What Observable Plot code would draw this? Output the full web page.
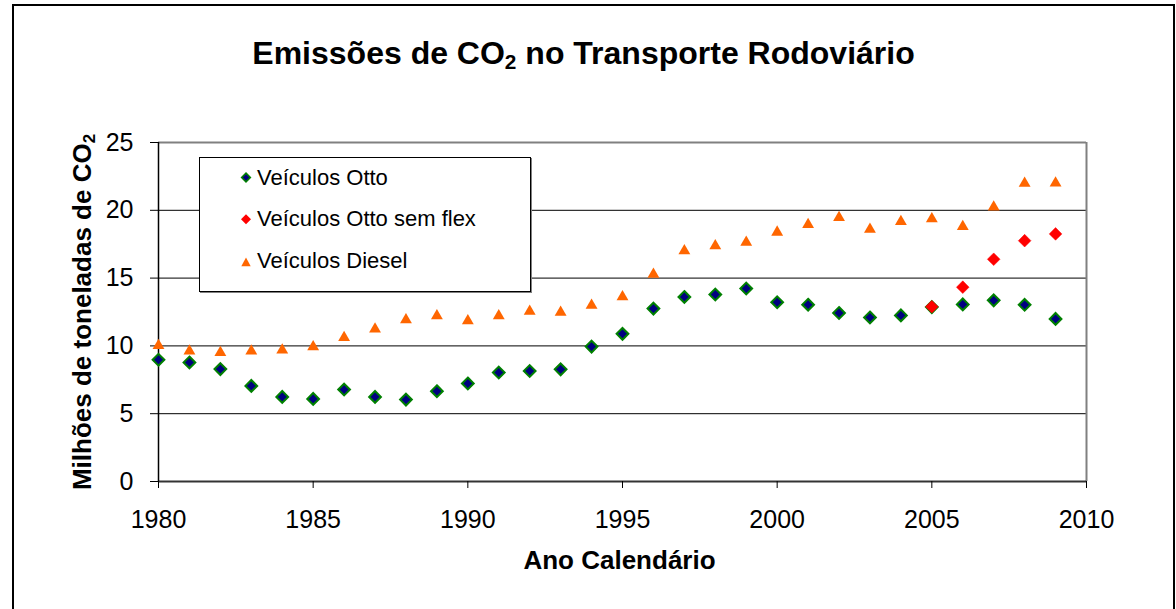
<!DOCTYPE html>
<html><head><meta charset="utf-8">
<script src="https://cdn.jsdelivr.net/npm/d3@7"></script>
<script src="https://cdn.jsdelivr.net/npm/@observablehq/plot@0.6"></script>
<style>
html,body{margin:0;padding:0;background:#fff;overflow:hidden}
#wrap{position:relative;width:1176px;height:609px;overflow:hidden;font-family:"Liberation Sans",Arial,sans-serif}
#chart{position:absolute;left:0;top:0}
#frame{position:absolute;left:12px;top:4px;width:1163px;height:700px;border:2px solid #000;box-sizing:border-box;pointer-events:none}
#legend{position:absolute;left:199px;top:157px;width:332px;height:135px;box-sizing:border-box;border:1px solid #000;background:#fff;box-shadow:1px 1px 0 #808080}
#legendsvg{position:absolute;left:0;top:0;pointer-events:none}
</style></head><body>
<div id="wrap"><div id="chart"></div><div id="legend"></div><svg id="legendsvg" width="1176" height="609"></svg><div id="frame"></div></div>
<script>
// ---- data ----
const years = [1980,1981,1982,1983,1984,1985,1986,1987,1988,1989,1990,1991,1992,1993,1994,1995,1996,1997,1998,1999,2000,2001,2002,2003,2004,2005,2006,2007,2008,2009];
const ottoValues = [8.98,8.78,8.29,7.05,6.24,6.09,6.78,6.24,6.04,6.66,7.23,8.04,8.15,8.27,9.95,10.89,12.75,13.61,13.79,14.23,13.22,13.04,12.43,12.10,12.25,12.86,13.06,13.36,13.03,11.99];
const semFlexYears = [2005,2006,2007,2008,2009];
const semFlexValues = [12.89,14.33,16.39,17.76,18.26];
const dieselValues = [10.15,9.75,9.63,9.75,9.82,10.05,10.74,11.36,12.05,12.34,11.97,12.34,12.67,12.60,13.12,13.74,15.40,17.14,17.51,17.76,18.51,19.08,19.58,18.73,19.30,19.50,18.93,20.37,22.11,22.14];
const seriesNames = ["Veículos Otto","Veículos Otto sem flex","Veículos Diesel"];
const xTicks = [1980,1985,1990,1995,2000,2005,2010];
const yTicks = [0,5,10,15,20,25];
const gridValues = [5,10,15,20];
const titleText = "Emissões de CO₂ no Transporte Rodoviário";
const xLabel = "Ano Calendário";
const yLabel = "Milhões de toneladas de CO₂";

const otto = years.map((y,i)=>({year:y, value:ottoValues[i]}));
const semFlex = semFlexYears.map((y,i)=>({year:y, value:semFlexValues[i]}));
const diesel = years.map((y,i)=>({year:y, value:dieselValues[i]}));

const FONT = "'Liberation Sans', Arial, Helvetica, sans-serif";

const svg = Plot.plot({
  width:1176, height:609,
  marginLeft:158, marginRight:90, marginTop:142, marginBottom:128,
  x:{domain:[xTicks[0], xTicks[xTicks.length-1]]},
  y:{domain:[yTicks[0], yTicks[yTicks.length-1]]},
  style:{fontFamily:FONT, background:"transparent", color:"black", overflow:"visible"},
  marks:[
    Plot.ruleY(gridValues, {stroke:"#000", strokeWidth:1}),
    Plot.ruleY([yTicks[yTicks.length-1]], {stroke:"#808080", strokeWidth:2}),
    Plot.ruleX([xTicks[xTicks.length-1]], {stroke:"#808080", strokeWidth:2}),
    Plot.ruleY([yTicks[0]], {stroke:"#333", strokeWidth:2}),
    Plot.ruleX([xTicks[0]], {stroke:"#000", strokeWidth:1.5}),
    Plot.axisY({ticks:yTicks, tickSize:8, tickPadding:17, fontSize:25, label:null, stroke:"#000"}),
    Plot.axisX({ticks:xTicks, tickSize:7, tickPadding:22, fontSize:25, label:null, stroke:"#000", tickFormat:d=>String(d)}),
    Plot.dot(otto, {x:"year", y:"value", symbol:"diamond2", r:5.3, fill:"#000080", stroke:"#008000", strokeWidth:2}),
    Plot.dot(semFlex, {x:"year", y:"value", symbol:"diamond2", r:5.7, fill:"#FF0000", stroke:"#FF0000", strokeWidth:0.5}),
    Plot.dot(diesel, {x:"year", y:"value", symbol:"triangle", r:4.4, fill:"#FF6600", dy:1.7}),
    Plot.text([titleText], {frameAnchor:"top", textAnchor:"middle", dx:-39, dy:-79, lineAnchor:"bottom", fontSize:32, fontWeight:"bold", fill:"#000"}),
    Plot.text([xLabel], {frameAnchor:"bottom", textAnchor:"middle", dx:-3, dy:87, lineAnchor:"bottom", fontSize:26, fontWeight:"bold", fill:"#000"}),
    Plot.text([yLabel], {frameAnchor:"left", textAnchor:"middle", rotate:-90, dx:-68, lineAnchor:"bottom", fontSize:26, fontWeight:"bold", fill:"#000"})
  ]
});
document.getElementById("chart").appendChild(svg);

// subscript "2" in CO2
d3.select(svg).selectAll("text").each(function(){
  const t = this.textContent;
  if (!t.includes("₂")) return;
  const parts = t.split("₂");
  this.textContent = "";
  const el = d3.select(this);
  el.append("tspan").text(parts[0]);
  el.append("tspan").attr("font-size","65%").attr("dy","0.25em").text("2");
  el.append("tspan").attr("dy","-0.1625em").text(parts[1]);
});

// legend
const lg = d3.select("#legendsvg");
const rowsY = [184.5, 226, 267.5];
const mx = 246;
seriesNames.forEach((name,i)=>{
  lg.append("text").attr("x",257).attr("y",rowsY[i]).attr("font-family",FONT).attr("font-size",22).attr("fill","#000").text(name);
});
const dpath = (cx,cy,h)=>`M${cx},${cy-h}L${cx+h},${cy}L${cx},${cy+h}L${cx-h},${cy}Z`;
lg.append("path").attr("d",dpath(mx,177.5,4.4)).attr("fill","#000080").attr("stroke","#008000").attr("stroke-width",1.5);
lg.append("path").attr("d",dpath(mx,219.3,5)).attr("fill","#FF0000");
lg.append("path").attr("d",`M${mx},257.5L${mx+4.7},266.3L${mx-4.7},266.3Z`).attr("fill","#FF6600");
</script>
</body></html>
